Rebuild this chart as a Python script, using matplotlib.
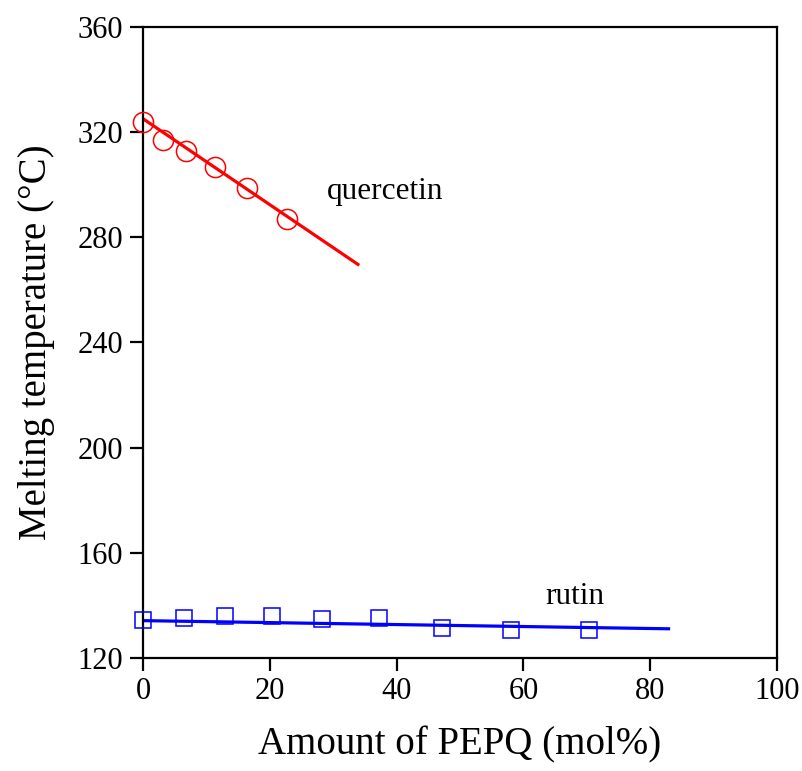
import matplotlib.pyplot as plt

plt.rcParams['font.family'] = ['Liberation Serif', 'DejaVu Serif']

# quercetin data (PEPQ mol%, melting temperature in C)
q_x = [0, 3.2, 6.8, 11.3, 16.4, 22.7]
q_y = [323.8, 317.1, 312.8, 306.7, 298.9, 287.1]
q_fit_x = [0, 33.9]
q_fit_y = [325.1, 269.7]

# rutin data
r_x = [0, 6.4, 13.0, 20.3, 28.3, 37.2, 47.1, 58.0, 70.3]
r_y = [134.4, 135.2, 135.8, 136.0, 134.9, 135.2, 131.3, 130.5, 130.5]
r_fit_x = [0, 82.9]
r_fit_y = [134.2, 131.1]

xticks = [0, 20, 40, 60, 80, 100]
yticks = [120, 160, 200, 240, 280, 320, 360]

fig = plt.figure(figsize=(8.02, 7.71), dpi=100)
ax = fig.add_axes([0.1783, 0.1466, 0.7905, 0.8184])

ax.plot(q_fit_x, q_fit_y, '-', color='#ff0000', lw=2.3, zorder=2)
ax.plot(q_x, q_y, 'o', ms=14.5, mfc='none', mec='#ff0000', mew=1.1, zorder=3, clip_on=False)
ax.plot(r_fit_x, r_fit_y, '-', color='#0000ff', lw=2.3, zorder=2)
ax.plot(r_x, r_y, 's', ms=11.5, mfc='none', mec='#0000ff', mew=1.1, zorder=3, clip_on=False)

ax.text(38.2, 297.5, 'quercetin', fontsize=22.5, ha='center', va='center')
ax.text(68.1, 143.5, 'rutin', fontsize=22.5, ha='center', va='center')

ax.set_xlim(0, 100)
ax.set_ylim(120, 360)
ax.set_xticks(xticks)
ax.set_yticks(yticks)
ax.tick_params(direction='out', length=9.5, width=1.6, labelsize=22)
ax.tick_params(axis='y', pad=5)
ax.tick_params(axis='x', pad=4)
for s in ax.spines.values():
    s.set_linewidth(1.6)

ax.set_xlabel('Amount of PEPQ (mol%)', fontsize=28, labelpad=15)
ax.set_ylabel('Melting temperature (°C)', fontsize=28, labelpad=16)

plt.savefig('out.png', dpi=100)
